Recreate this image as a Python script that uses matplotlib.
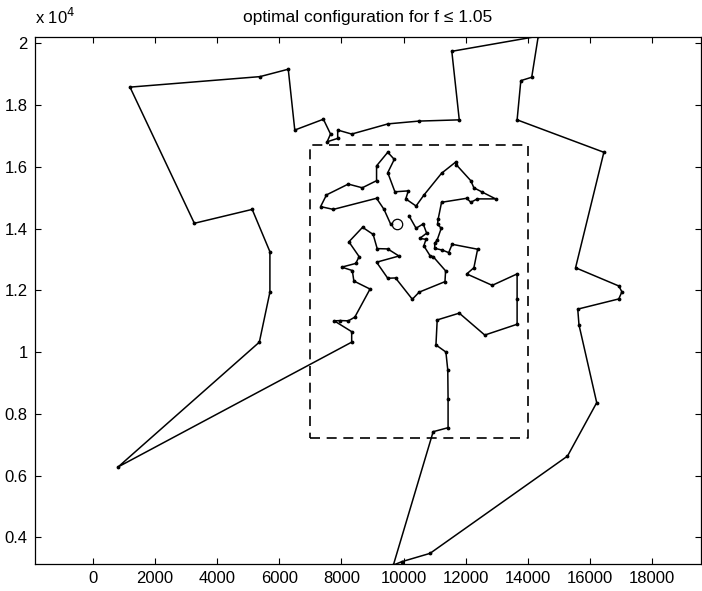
import matplotlib
matplotlib.use('Agg')
import matplotlib.pyplot as plt

plt.rcParams['font.family'] = ['Liberation Sans', 'DejaVu Sans']
plt.rcParams['font.size'] = 12

# tour vertices (open path, both ends next to the start circle)
tour_x = [10170, 10400, 10630, 10740, 10520, 10720, 10650, 10850, 10950, 11350,
          11330, 10500, 10280, 9740, 9490, 9130, 9850, 9490, 9150, 9020,
          8680, 8240, 8570, 8460, 8010, 8350, 8400, 8920, 8430, 8220,
          7970, 7770, 8330, 8330, 820, 5360, 5700, 5700, 5130, 3270,
          1200, 5380, 6290, 6500, 7420, 7650, 7540, 7880, 7880, 8330,
          9500, 10490, 11790, 11550, 14330, 14120, 13770, 13650, 16440, 15530,
          16920, 17020, 16920, 15600, 15640, 16210, 15270, 10850, 9940, 9670,
          10950, 11430, 11430, 11420, 11360, 11040, 11080, 11790, 12610, 13650,
          13650, 13650, 12850, 12030, 12260, 12380, 11560, 11450, 11250, 11000,
          11000, 11080, 11210, 11090, 11110, 11220, 12030, 12160, 12370, 12960,
          12510, 12260, 12160, 11700, 11670, 11220, 10650, 10400, 10070, 10150,
          9720, 9490, 9700, 9490, 9130, 9130, 8670, 8220, 7520, 7330,
          7740, 9130, 9370, 9580]
tour_y = [14420, 14010, 14150, 13850, 13680, 13650, 13440, 13120, 13090, 12630,
          12280, 11940, 11710, 12400, 12390, 12910, 13110, 13340, 13350, 13810,
          14040, 13570, 13090, 12870, 12750, 12640, 12300, 12040, 11130, 11010,
          11020, 11010, 10660, 10320, 6280, 10320, 11940, 13250, 14620, 14170,
          18580, 18920, 19160, 17190, 17540, 17060, 16810, 16920, 17190, 17060,
          17390, 17480, 17520, 19740, 20230, 18900, 18790, 17520, 16470, 12730,
          12140, 11950, 11720, 11390, 10880, 8360, 6630, 3480, 3210, 3100,
          7420, 7550, 8480, 9420, 10000, 10230, 11040, 11260, 10550, 10900,
          11710, 12530, 12160, 12530, 12730, 13330, 13490, 13220, 13300, 13360,
          13520, 13630, 14010, 14140, 14300, 14850, 14980, 14850, 14960, 14960,
          15190, 15320, 15550, 16060, 16150, 15790, 15080, 14730, 14960, 15220,
          15190, 15810, 16240, 16470, 16030, 15550, 15320, 15440, 15090, 14710,
          14620, 14980, 14620, 14150]

start_x = [9790]
start_y = [14150]

# dashed region
box_x = [7000, 14000, 14000, 7000, 7000]
box_y = [7200, 7200, 16700, 16700, 7200]

xticks = list(range(0, 18001, 2000))
yticks = [4000, 6000, 8000, 10000, 12000, 14000, 16000, 18000, 20000]
ytick_labels = ['0.4', '0.6', '0.8', '1', '1.2', '1.4', '1.6', '1.8', '2']

fig = plt.figure(figsize=(7.02, 5.91), dpi=100)
ax = fig.add_axes([0.0494, 0.0452, 0.949, 0.8917])

ax.plot(box_x, box_y, 'k--', lw=1.2, dashes=(6, 4))
ax.plot(tour_x, tour_y, 'k-', lw=1.1, marker='.', markersize=3.5)
ax.plot(start_x, start_y, 'ko', mfc='none', markersize=7.5, mew=0.9)

ax.set_xlim(-1865, 19560)
ax.set_ylim(3126, 20194)
ax.set_xticks(xticks)
ax.set_yticks(yticks)
ax.set_yticklabels(ytick_labels)
ax.tick_params(direction='in', length=4, top=True, right=True, width=0.8, pad=5)
for s in ax.spines.values():
    s.set_linewidth(0.9)

ax.text(0.0, 1.02, r'x 10$^4$', transform=ax.transAxes, ha='left', va='bottom')
ax.set_title('optimal configuration for f \u2264 1.05', fontsize=12.5, pad=11)

plt.savefig('out.png', dpi=100)
plt.close()
